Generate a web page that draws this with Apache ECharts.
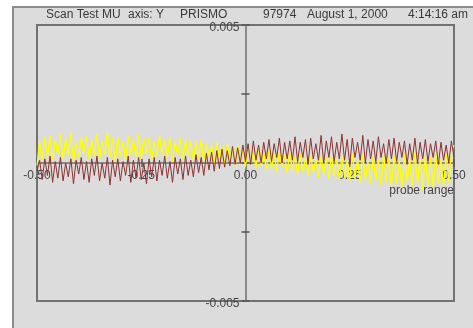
<!DOCTYPE html>
<html>
<head>
<meta charset="utf-8">
<script src="https://cdn.jsdelivr.net/npm/echarts@6/dist/echarts.min.js"></script>
<style>
html,body{margin:0;padding:0;background:#fff;}
#chart{width:473px;height:328px;}
</style>
</head>
<body>
<div id="chart"></div>
<script>
// scan positions: first probe position and step between samples
var xStart = -0.5;
var xStep = 1 / 160;

// readings, in units of 1e-5
var yellowScan = [
	-10, 80, 15, 95, 20, 100, 10, 85, 30, 105,
	15, 90, 25, 110, 5, 75, 20, 95, 35, 100,
	10, 85, 25, 105, 15, 80, 30, 115, 20, 90,
	5, 95, 25, 80, 10, 100, 30, 85, 20, 105,
	15, 90, 35, 95, 10, 80, 25, 100, 30, 85,
	20, 95, 5, 75, 30, 90, 15, 85, 25, 80,
	10, 75, 20, 85, 5, 70, 25, 65, 0, 75,
	15, 60, -5, 70, 10, 55, -10, 65, 5, 50,
	-15, 60, 0, 45, -20, 55, -10, 40, -25, 50,
	-20, 35, -30, 45, -15, 30, -35, 40, -25, 25,
	-40, 35, -30, 20, -45, 30, -35, 15, -50, 25,
	-40, 20, -55, 30, -45, 15, -60, 25, -50, 10,
	-65, 35, -55, 15, -70, 30, -60, 5, -75, 25,
	-65, 15, -80, 35, -70, 20, -85, 30, -75, 10,
	-90, 35, -70, 15, -85, 40, -75, 10, -95, 30,
	-80, 20, -90, 40, -75, 15, -85, 35, -70, 40,
	65
];
var brownScan = [
	-30, 10, -60, 15, -45, 25, -70, 5, -55, 20,
	-65, 0, -50, 15, -75, 10, -40, 20, -60, 5,
	-70, 15, -45, 25, -65, 0, -55, 20, -80, 10,
	-50, 15, -65, 5, -45, 25, -70, 10, -55, 20,
	-60, 0, -75, 15, -50, 20, -65, 10, -45, 25,
	-55, 5, -70, 20, -40, 15, -60, 25, -45, 10,
	-50, 30, -35, 20, -45, 35, -25, 40, -30, 45,
	-20, 50, -15, 45, -10, 60, -5, 55, 0, 65,
	5, 70, -5, 80, 10, 65, 0, 75, 15, 85,
	5, 70, 20, 90, 0, 75, 15, 80, 10, 95,
	5, 75, 20, 85, -5, 90, 15, 70, 10, 100,
	0, 80, 20, 95, 5, 75, 15, 105, 10, 85,
	-5, 90, 20, 75, 10, 100, 0, 85, 15, 80,
	5, 95, 20, 70, 0, 85, 15, 90, 5, 75,
	20, 80, -5, 70, 10, 90, 0, 75, 15, 85,
	5, 70, 20, 80, -5, 75, 10, 65, 0, 80,
	20
];

// tick labels
var xTickLabels = ["-0.50", "-0.25", "0.00", "0.25", "0.50"];
var yTickLabels = ["-0.005", "0.005"];
var xName = "probe range";

// header texts and where they start
var headerTexts = ["Scan Test MU", "axis: Y", "PRISMO", "97974", "August 1, 2000", "4:14:16 am"];
var headerX = [46, 128, 180, 263, 307, 408];

function toPairs(arr) {
	var out = [];
	for (var i = 0; i < arr.length; i++) {
		out.push([xStart + i * xStep, arr[i] * 1e-5]);
	}
	return out;
}

var font = "'Liberation Sans', Arial, sans-serif";
var axisGray = "#8a8a8a";
var gridW = 417, gridH = 276;

var graphics = [{
	type: "rect",
	z: -10,
	shape: { x: 13, y: 7, width: 480, height: 340 },
	style: { fill: "#dcdcdc", stroke: "#8c8c8c", lineWidth: 2 }
}];
for (var i = 0; i < headerTexts.length; i++) {
	graphics.push({
		type: "text",
		x: headerX[i],
		y: 15,
		style: {
			text: headerTexts[i],
			fill: "#3a3a3a",
			font: "12px " + font,
			textVerticalAlign: "middle"
		}
	});
}

function xLabel(v) {
	var idx = Math.round((v + 0.5) / 0.25);
	return xTickLabels[idx] || "";
}
// y labels sit a little below their tick, like the original
function yLabel(v) {
	if (Math.abs(v + 0.005) < 1e-9) return "{d|" + yTickLabels[0] + "}";
	if (Math.abs(v - 0.005) < 1e-9) return "{d|" + yTickLabels[1] + "}";
	return "";
}

// axes are pulled into the middle of the box with offset
var myChart = echarts.init(document.getElementById("chart"), null, { renderer: "canvas" });
var option = {
	animation: false,
	backgroundColor: "#ffffff",
	graphic: graphics,
	grid: {
		left: 37, top: 25, width: gridW, height: gridH,
		show: true,
		borderColor: "#727272",
		borderWidth: 2,
		backgroundColor: "transparent",
		outerBoundsMode: "none"
	},
	xAxis: [{
		type: "value",
		position: "bottom",
		offset: -gridH / 2,
		min: -0.5, max: 0.5, interval: 0.25,
		axisLine: { onZero: false, lineStyle: { color: axisGray, width: 2 } },
		axisTick: { show: true, length: 4, lineStyle: { color: "#555", width: 1.5 } },
		axisLabel: { formatter: xLabel, margin: 7, color: "#444", fontSize: 12, fontFamily: font },
		splitLine: { show: false },
		name: xName,
		nameLocation: "end",
		nameGap: 0,
		nameTextStyle: { align: "right", verticalAlign: "top", padding: [22, 0, 0, 0], color: "#444", fontSize: 12, fontFamily: font }
	}, {
		type: "value",
		position: "bottom",
		offset: -gridH / 2,
		min: -0.5, max: 0.5, interval: 0.25,
		axisLine: { show: false, onZero: false },
		axisTick: { show: true, inside: true, length: 4, lineStyle: { color: "#555", width: 1.5 } },
		axisLabel: { show: false },
		splitLine: { show: false }
	}],
	yAxis: [{
		type: "value",
		position: "left",
		offset: -gridW / 2,
		min: -0.005, max: 0.005, interval: 0.0025,
		axisLine: { onZero: false, lineStyle: { color: axisGray, width: 2 } },
		axisTick: { show: true, length: 4, lineStyle: { color: "#555", width: 1.5 } },
		axisLabel: {
			formatter: yLabel, margin: 6,
			rich: { d: { color: "#444", fontSize: 12, fontFamily: font, padding: [6, 0, 0, 0] } }
		},
		splitLine: { show: false }
	}, {
		type: "value",
		position: "left",
		offset: -gridW / 2,
		min: -0.005, max: 0.005, interval: 0.0025,
		axisLine: { show: false, onZero: false },
		axisTick: { show: true, inside: true, length: 4, lineStyle: { color: "#555", width: 1.5 } },
		axisLabel: { show: false },
		splitLine: { show: false }
	}],
	series: [{
		name: "yellow",
		type: "line",
		showSymbol: false,
		data: toPairs(yellowScan),
		lineStyle: { color: "#ffff00", width: 1.3 },
		z: 3
	}, {
		name: "brown",
		type: "line",
		showSymbol: false,
		data: toPairs(brownScan),
		lineStyle: { color: "#8b3333", width: 1 },
		z: 4
	}]
};
myChart.setOption(option);
</script>
</body>
</html>
